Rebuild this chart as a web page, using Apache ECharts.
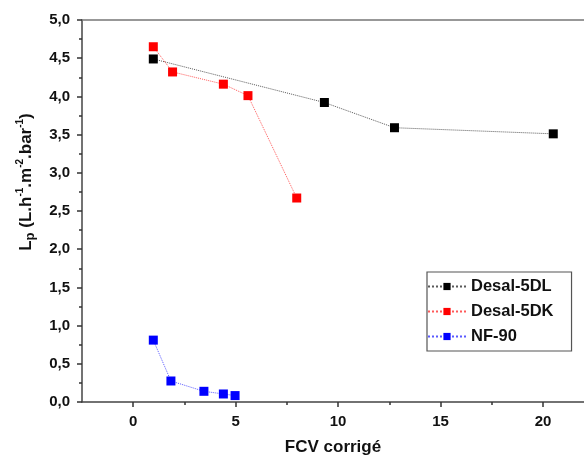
<!DOCTYPE html>
<html>
<head>
<meta charset="utf-8">
<script src="https://cdn.jsdelivr.net/npm/echarts@6/dist/echarts.min.js"></script>
<style>html,body{margin:0;padding:0;background:#fff;}#c{width:584px;height:455px;}</style>
</head>
<body>
<div id="c"></div>
<script>
var seriesNames = ['Desal-5DL', 'Desal-5DK', 'NF-90'];
var desal5DL = [[0.98, 4.49], [9.33, 3.92], [12.75, 3.59], [20.5, 3.51]];
var desal5DK = [[0.98, 4.65], [1.92, 4.32], [4.40, 4.16], [5.60, 4.01], [7.98, 2.67]];
var nf90 = [[0.98, 0.81], [1.84, 0.275], [3.45, 0.14], [4.40, 0.105], [4.97, 0.084]];
var xMajorTicks = [0, 5, 10, 15, 20];
var xMinorTicks = [2.5, 7.5, 12.5, 17.5];

var FONT = 'Liberation Sans, Arial, sans-serif';
var colors = ['#000000', '#ff0000', '#0000ff'];
var X_MIN = -2.5, X_MAX = 22.0;
var chart = echarts.init(document.getElementById('c'));

function mk(name, data, color) {
  return {
    name: name, type: 'line', data: data, xAxisIndex: 0,
    symbol: 'rect', symbolSize: 9,
    itemStyle: { color: color },
    lineStyle: { color: color, width: 1, type: 'dotted', opacity: 0.65 },
    emphasis: { disabled: true }, animation: false
  };
}

chart.setOption({
  backgroundColor: '#fff',
  animation: false,
  grid: { left: 82, top: 20, right: 0, bottom: 53, show: false, containLabel: false, outerBoundsMode: 'none' },
  xAxis: [{
    type: 'value', min: X_MIN, max: X_MAX,
    name: 'FCV corrigé', nameLocation: 'middle', nameGap: 37,
    nameTextStyle: { fontFamily: FONT, fontSize: 17, fontWeight: 'bold', color: '#111' },
    axisLine: { show: true, onZero: false, lineStyle: { color: '#444', width: 1.5 } },
    axisTick: { show: true, length: 5, inside: false, customValues: xMajorTicks, lineStyle: { color: '#333', width: 1.5 } },
    axisLabel: { customValues: xMajorTicks, margin: 12, fontFamily: FONT, fontSize: 15, fontWeight: 'bold', color: '#111' },
    splitLine: { show: false }
  }, {
    type: 'value', min: X_MIN, max: X_MAX, position: 'bottom', gridIndex: 0,
    axisLine: { show: false, onZero: false },
    axisTick: { show: true, length: 3, customValues: xMinorTicks, lineStyle: { color: '#333', width: 1.5 } },
    axisLabel: { show: false },
    splitLine: { show: false }
  }, {
    type: 'value', min: X_MIN, max: X_MAX, position: 'top', gridIndex: 0,
    axisLine: { show: true, onZero: false, lineStyle: { color: '#777', width: 1.5 } },
    axisTick: { show: false },
    axisLabel: { show: false },
    splitLine: { show: false }
  }],
  yAxis: {
    type: 'value', min: 0, max: 5, interval: 0.5,
    axisLine: { show: true, onZero: false, lineStyle: { color: '#444', width: 1.5 } },
    axisTick: { show: true, length: 5, lineStyle: { color: '#333', width: 1.5 } },
    minorTick: { show: true, splitNumber: 2, length: 3, lineStyle: { color: '#333', width: 1.5 } },
    axisLabel: { margin: 12, fontFamily: FONT, fontSize: 15, fontWeight: 'bold', color: '#111',
      formatter: function (v) { return v.toFixed(1).replace('.', ','); } },
    splitLine: { show: false }
  },
  legend: {
    orient: 'vertical', left: 427, top: 272,
    data: seriesNames,
    itemWidth: 38, itemHeight: 9, itemGap: 8,
    padding: [6, 18, 6, 0],
    borderColor: '#555', borderWidth: 1.2,
    textStyle: { fontFamily: FONT, fontSize: 16.5, fontWeight: 'bold', color: '#111' }
  },
  graphic: [{
    type: 'text', x: 26, y: 182, rotation: Math.PI / 2,
    style: {
      text: '{b|L}{sub|p}{b| (L.h}{sup|-1}{b|.m}{sup|-2}{b|.bar}{sup|-1}{b|)}',
      align: 'center', verticalAlign: 'middle', fill: '#111',
      rich: {
        b: { fontFamily: FONT, fontSize: 17, fontWeight: 'bold', lineHeight: 22, verticalAlign: 'middle' },
        sub: { fontFamily: FONT, fontSize: 13, fontWeight: 'bold', lineHeight: 22, verticalAlign: 'bottom', padding: [8, 0, 0, 0] },
        sup: { fontFamily: FONT, fontSize: 10, fontWeight: 'bold', lineHeight: 22, verticalAlign: 'top' }
      }
    }
  }],
  series: [mk(seriesNames[0], desal5DL, colors[0]), mk(seriesNames[1], desal5DK, colors[1]), mk(seriesNames[2], nf90, colors[2])]
});
</script>
</body>
</html>
